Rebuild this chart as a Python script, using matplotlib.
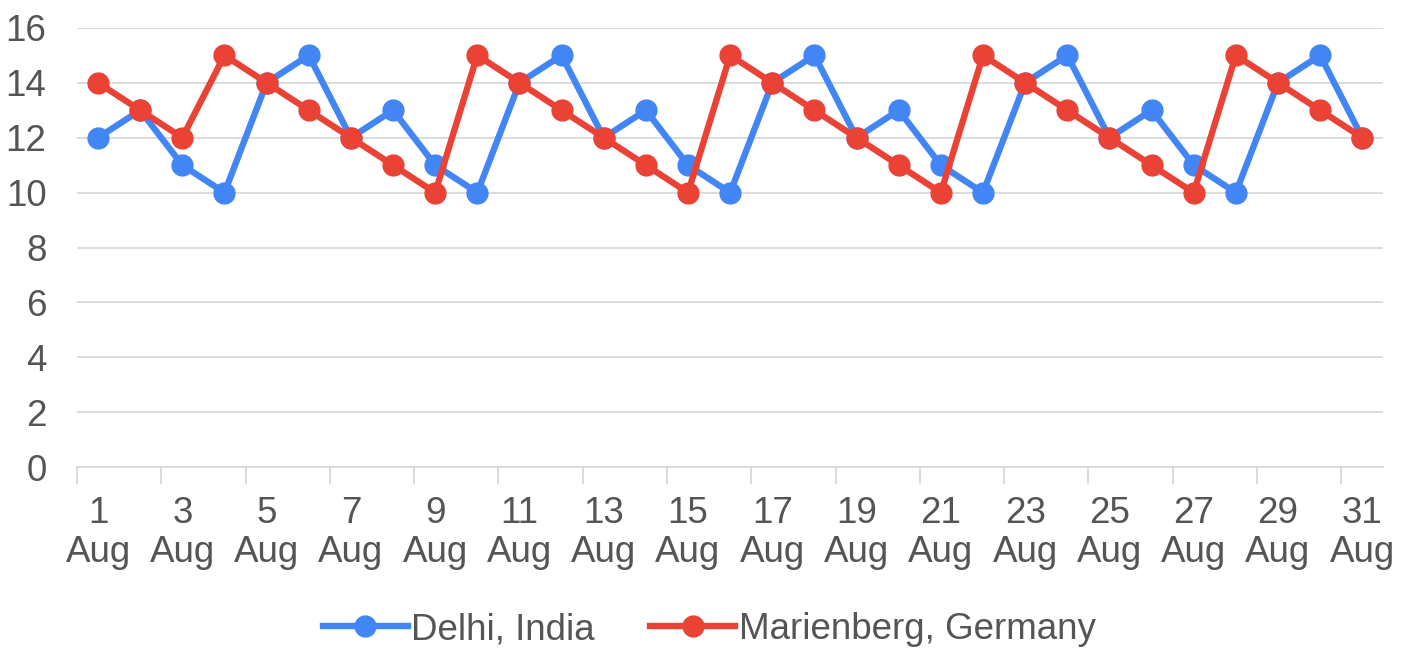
import matplotlib.pyplot as plt
import numpy as np

days = list(range(1, 32))
day_labels = [f"{d}\nAug" for d in range(1, 32, 2)]
delhi = [12, 13, 11, 10, 14, 15, 12, 13, 11, 10, 14, 15, 12, 13, 11, 10,
         14, 15, 12, 13, 11, 10, 14, 15, 12, 13, 11, 10, 14, 15, 12]
marienberg = [14, 13, 12, 15, 14, 13, 12, 11, 10, 15, 14, 13, 12, 11, 10, 15,
              14, 13, 12, 11, 10, 15, 14, 13, 12, 11, 10, 15, 14, 13, 12]

plt.rcParams['font.family'] = ['Liberation Sans', 'DejaVu Sans']
text_color = "#555555"
grid_color = "#d9d9d9"

fig = plt.figure(figsize=(14.1, 6.48), dpi=100)
ax = fig.add_axes([0.0546, 0.279, 0.9265, 0.678])

ax.plot(days, delhi, color="#4285F4", lw=4.6, marker="o", markersize=15,
        label="Delhi, India", zorder=3)
ax.plot(days, marienberg, color="#EA4335", lw=4.6, marker="o", markersize=15,
        label="Marienberg, Germany", zorder=4)

ax.set_xlim(0.5, 31.5)
ax.set_ylim(0, 16)
ax.set_yticks(range(0, 17, 2))
ax.yaxis.grid(True, color=grid_color, lw=1.3)
ax.set_axisbelow(True)

# tick marks sit between labels, labels on odd days
ax.set_xticks(np.arange(0.5, 31, 2))
ax.set_xticklabels([])
ax.set_xticks(range(1, 32, 2), minor=True)
ax.set_xticklabels(day_labels, minor=True, linespacing=1.15)
ax.tick_params(axis="x", which="major", length=12, width=1.3, color=grid_color)
ax.tick_params(axis="x", which="minor", length=0, pad=21, labelsize=26.5,
               labelcolor=text_color)
ax.tick_params(axis="y", length=0, pad=22, labelsize=26.5, labelcolor=text_color)

for side in ["top", "right", "left"]:
    ax.spines[side].set_visible(False)
ax.spines["bottom"].set_color(grid_color)
ax.spines["bottom"].set_linewidth(1.3)

leg = fig.legend(loc="center", bbox_to_anchor=(0.503, 0.028), ncol=2,
                 frameon=False, fontsize=26.5, handlelength=2.3,
                 handletextpad=0.1, columnspacing=1.5, labelcolor=text_color)

fig.savefig("out.png", dpi=100)
